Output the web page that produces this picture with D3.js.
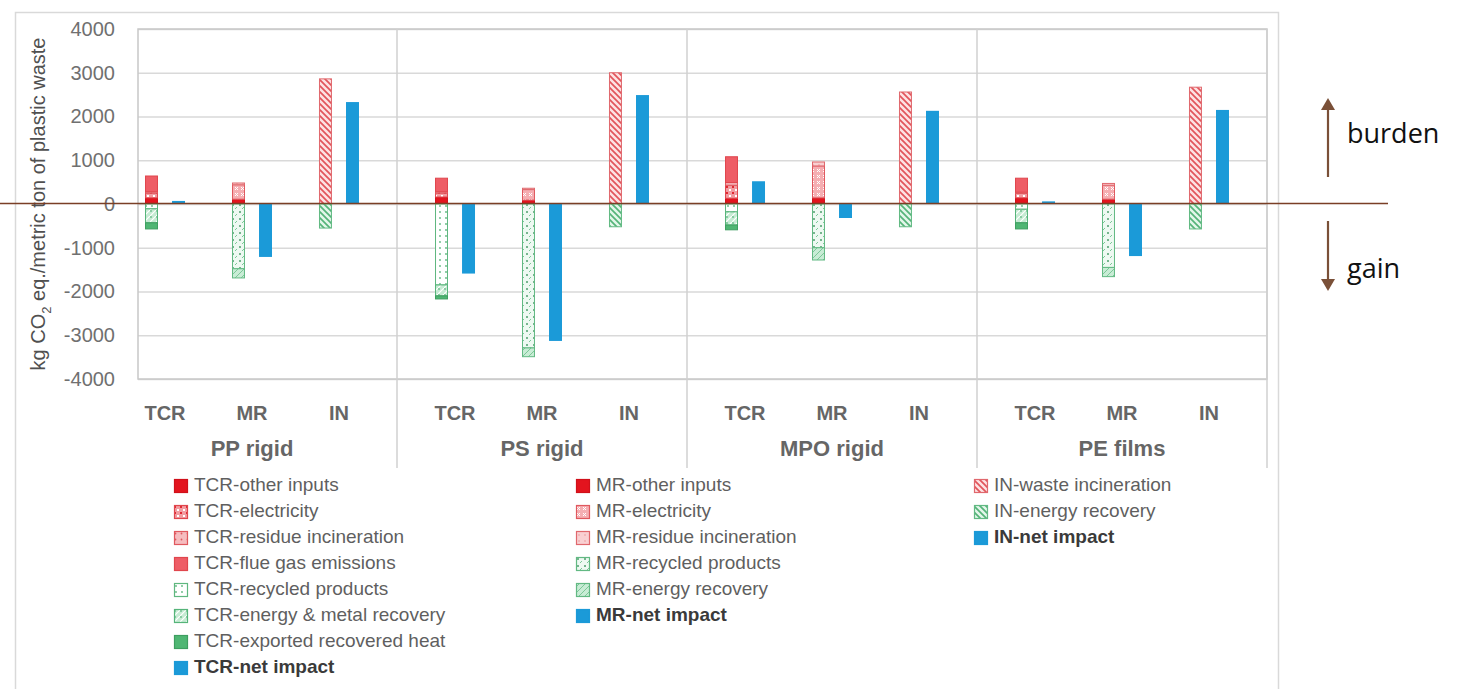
<!DOCTYPE html>
<html>
<head>
<meta charset="utf-8">
<script src="https://cdnjs.cloudflare.com/ajax/libs/d3/7.8.5/d3.min.js"></script>
<style>
  body { margin: 0; background: #fff; }
  svg { display: block; font-family: "Liberation Sans", Arial, sans-serif; }
</style>
</head>
<body>
<svg id="chart" width="1458" height="689"></svg>
<script>
// categories
var groups = ["PP rigid", "PS rigid", "MPO rigid", "PE films"];
var routes = ["TCR", "MR", "IN"];
var yTicks = [-4000, -3000, -2000, -1000, 0, 1000, 2000, 3000, 4000];

// TCR components (PP rigid, PS rigid, MPO rigid, PE films)
var tcrOtherInputs = [140, 160, 130, 140];
var tcrElectricity = [110, 90, 300, 100];
var tcrResidueIncineration = [30, 30, 60, 30];
var tcrFlueGas = [360, 310, 590, 320];
var tcrRecycledProducts = [-110, -1850, -180, -120];
var tcrEnergyMetalRecovery = [-320, -250, -300, -310];
var tcrExportedHeat = [-140, -70, -110, -140];
var tcrNet = [70, -1590, 520, 60];

// MR components
var mrOtherInputs = [110, 90, 140, 110];
var mrElectricity = [330, 240, 730, 320];
var mrResidueIncineration = [40, 30, 90, 40];
var mrRecycledProducts = [-1480, -3290, -1000, -1450];
var mrEnergyRecovery = [-210, -200, -280, -210];
var mrNet = [-1210, -3130, -320, -1190];

// IN components
var inWasteIncineration = [2860, 3000, 2560, 2670];
var inEnergyRecovery = [-550, -520, -520, -570];
var inNet = [2330, 2490, 2130, 2150];

var series = [
    { route: "TCR", name: "TCR-other inputs", values: tcrOtherInputs, style: "otherInputs" },
    { route: "TCR", name: "TCR-electricity", values: tcrElectricity, style: "tcrElec" },
    { route: "TCR", name: "TCR-residue incineration", values: tcrResidueIncineration, style: "tcrResidue" },
    { route: "TCR", name: "TCR-flue gas emissions", values: tcrFlueGas, style: "flueGas" },
    { route: "TCR", name: "TCR-recycled products", values: tcrRecycledProducts, style: "recycled" },
    { route: "TCR", name: "TCR-energy & metal recovery", values: tcrEnergyMetalRecovery, style: "tcrEnergy" },
    { route: "TCR", name: "TCR-exported recovered heat", values: tcrExportedHeat, style: "heat" },
    { route: "MR", name: "MR-other inputs", values: mrOtherInputs, style: "otherInputs" },
    { route: "MR", name: "MR-electricity", values: mrElectricity, style: "mrElec" },
    { route: "MR", name: "MR-residue incineration", values: mrResidueIncineration, style: "mrResidue" },
    { route: "MR", name: "MR-recycled products", values: mrRecycledProducts, style: "mrRecycled" },
    { route: "MR", name: "MR-energy recovery", values: mrEnergyRecovery, style: "mrEnergy" },
    { route: "IN", name: "IN-waste incineration", values: inWasteIncineration, style: "inWaste" },
    { route: "IN", name: "IN-energy recovery", values: inEnergyRecovery, style: "inEnergy" }
];
var netSeries = [
    { route: "TCR", name: "TCR-net impact", values: tcrNet, style: "net" },
    { route: "MR", name: "MR-net impact", values: mrNet, style: "net" },
    { route: "IN", name: "IN-net impact", values: inNet, style: "net" }
];

var styles = {
    otherInputs: { fill: "#e3141e", stroke: "#d0101a" },
    tcrElec: { fill: "url(#p-tcr-elec)", stroke: "#e0464d" },
    tcrResidue: { fill: "url(#p-tcr-residue)", stroke: "#e0585e" },
    flueGas: { fill: "#ee5d66", stroke: "#e0464d" },
    recycled: { fill: "url(#p-recycled)", stroke: "#5fb77f" },
    tcrEnergy: { fill: "url(#p-tcr-energy)", stroke: "#55b479" },
    heat: { fill: "#4fb673", stroke: "#3e9e60" },
    mrElec: { fill: "url(#p-mr-elec)", stroke: "#e0585e" },
    mrResidue: { fill: "url(#p-mr-residue)", stroke: "#e0686d" },
    mrRecycled: { fill: "url(#p-mr-recycled)", stroke: "#62b983" },
    mrEnergy: { fill: "url(#p-mr-energy)", stroke: "#62b983" },
    inWaste: { fill: "url(#p-in-waste)", stroke: "#e0686d" },
    inEnergy: { fill: "url(#p-in-energy)", stroke: "#62b983" },
    net: { fill: "#1b9ad8", stroke: "#1b9ad8" }
};

var svg = d3.select("#chart");
var plot = { left: 138, right: 1267, top: 29, bottom: 379 };
var groupStep = 290;

// patterns
var defs = svg.append("defs");
function addPattern(id, size, bg, marks)
{
    var p = defs.append("pattern").attr("id", id).attr("patternUnits", "userSpaceOnUse")
        .attr("width", size).attr("height", size);
    p.append("rect").attr("width", size).attr("height", size).attr("fill", bg);
    marks(p);
}
addPattern("p-tcr-elec", 6, "#f29ca1", function (p)
{
    p.append("rect").attr("x", 0).attr("y", 0).attr("width", 2).attr("height", 2).attr("fill", "#e02a33");
    p.append("rect").attr("x", 3).attr("y", 3).attr("width", 2).attr("height", 2).attr("fill", "#ffffff");
});
addPattern("p-tcr-residue", 6, "#f6bcbf", function (p)
{
    p.append("circle").attr("cx", 1.5).attr("cy", 1.5).attr("r", 0.9).attr("fill", "#e0585e");
});
addPattern("p-recycled", 6, "#ffffff", function (p)
{
    p.append("circle").attr("cx", 2).attr("cy", 2).attr("r", 0.9).attr("fill", "#5fb77f");
});
addPattern("p-tcr-energy", 6, "#c6ebd3", function (p)
{
    p.append("path").attr("d", "M0,6 L6,0").attr("stroke", "#ffffff").attr("stroke-width", 1.2);
    p.append("circle").attr("cx", 1).attr("cy", 1).attr("r", 0.8).attr("fill", "#3ea665");
});
addPattern("p-mr-elec", 6, "#f5aeb2", function (p)
{
    p.append("path").attr("d", "M1,1 L4,4 M4,1 L1,4").attr("stroke", "#ffffff").attr("stroke-width", 1);
});
addPattern("p-mr-residue", 6, "#f9d0d2", function (p)
{
    p.append("circle").attr("cx", 3).attr("cy", 3).attr("r", 0.7).attr("fill", "#e88a8e");
});
addPattern("p-mr-recycled", 7, "#eef9f2", function (p)
{
    p.append("circle").attr("cx", 2).attr("cy", 2).attr("r", 1).attr("fill", "#4e9f6c");
    p.append("path").attr("d", "M4,6 L6,4").attr("stroke", "#7cc898").attr("stroke-width", 1);
});
addPattern("p-mr-energy", 6, "#c8ecd5", function (p)
{
    p.append("path").attr("d", "M0,3 L3,0 M3,6 L6,3").attr("stroke", "#7cc898").attr("stroke-width", 1);
});
addPattern("p-in-waste", 6, "#fde2e3", function (p)
{
    p.append("path").attr("d", "M0,0 L6,6 M-1,5 L1,7 M5,-1 L7,1").attr("stroke", "#e2555b").attr("stroke-width", 1.7);
});
addPattern("p-in-energy", 6, "#e3f6ea", function (p)
{
    p.append("path").attr("d", "M0,0 L6,6 M-1,5 L1,7 M5,-1 L7,1").attr("stroke", "#55b479").attr("stroke-width", 1.7);
});

// outer chart border
svg.append("rect").attr("x", 15.5).attr("y", 12.5).attr("width", 1263).attr("height", 700)
    .attr("fill", "#fff").attr("stroke", "#d9d9d9").attr("stroke-width", 1.5);

// scales
var y = d3.scaleLinear().domain([-4000, 4000]).range([plot.bottom, plot.top]);
var xGroup = d3.scaleBand().domain(groups).range([plot.right - groups.length * groupStep, plot.right]);
var xRoute = d3.scaleBand().domain(routes).range([0, groupStep]).paddingOuter(0.167);
var xSub = d3.scaleBand().domain(["stack", "net"]).range([-20, 20]).paddingInner(0.52);

function routeCenter(g, r) { return xGroup(g) + xRoute(r) + xRoute.bandwidth() / 2; }

// plain hyphen for negatives, as in the original
var fmt = d3.formatLocale({ decimal: ".", thousands: "", grouping: [3], currency: ["", ""], minus: "-" }).format("d");

// y gridlines + labels
var yAxis = svg.append("g").attr("transform", "translate(" + plot.left + ",0)")
    .call(d3.axisLeft(y).tickValues(yTicks).tickFormat(fmt)
        .tickSize(-(plot.right - plot.left)).tickPadding(23));
yAxis.select(".domain").remove();
yAxis.selectAll(".tick line").attr("stroke", "#d9d9d9").attr("stroke-width", 1.5);
yAxis.selectAll(".tick text").attr("fill", "#707070").style("font-size", "20px")
    .style("font-family", "'Liberation Sans', Arial, sans-serif");

// plot border
svg.append("rect").attr("x", plot.left).attr("y", plot.top)
    .attr("width", plot.right - plot.left).attr("height", plot.bottom - plot.top)
    .attr("fill", "none").attr("stroke", "#c8c8c8").attr("stroke-width", 1.5);

// group separators (extend into the category axis)
svg.selectAll("line.sep").data(groups.slice(1).concat(["end"])).enter().append("line")
    .attr("class", "sep")
    .attr("x1", function (d) { return d === "end" ? plot.right : xGroup(d); })
    .attr("x2", function (d) { return d === "end" ? plot.right : xGroup(d); })
    .attr("y1", plot.top).attr("y2", 468)
    .attr("stroke", "#d0d0d0").attr("stroke-width", 1.5);

// stacked component bars
routes.forEach(function (route)
{
    var rs = series.filter(function (s) { return s.route === route; });
    var rows = groups.map(function (g, gi)
    {
        var row = { group: g };
        rs.forEach(function (s) { row[s.name] = s.values[gi]; });
        return row;
    });
    var stacked = d3.stack().keys(rs.map(function (s) { return s.name; }))
        .offset(d3.stackOffsetDiverging)(rows);

    stacked.forEach(function (layer, li)
    {
        var st = styles[rs[li].style];
        svg.append("g").selectAll("rect").data(layer).enter().append("rect")
            .attr("x", function (d) { return routeCenter(d.data.group, route) + xSub("stack") + 0.5; })
            .attr("width", xSub.bandwidth() - 1)
            .attr("y", function (d) { return y(Math.max(d[0], d[1])); })
            .attr("height", function (d) { return Math.abs(y(d[0]) - y(d[1])); })
            .attr("fill", st.fill)
            .attr("stroke", st.stroke)
            .attr("stroke-width", 1);
    });
});

// net impact bars
netSeries.forEach(function (s)
{
    svg.append("g").selectAll("rect").data(s.values).enter().append("rect")
        .attr("x", function (d, i) { return routeCenter(groups[i], s.route) + xSub("net"); })
        .attr("width", xSub.bandwidth())
        .attr("y", function (d) { return y(Math.max(0, d)); })
        .attr("height", function (d) { return Math.abs(y(d) - y(0)); })
        .attr("fill", styles.net.fill);
});

// category labels
groups.forEach(function (g)
{
    routes.forEach(function (r)
    {
        svg.append("text").attr("x", routeCenter(g, r)).attr("y", 420)
            .attr("text-anchor", "middle").attr("fill", "#666666")
            .style("font-size", "20px").style("font-weight", "bold")
            .text(r);
    });
    svg.append("text").attr("x", xGroup(g) + xGroup.bandwidth() / 2).attr("y", 456)
        .attr("text-anchor", "middle").attr("fill", "#666666")
        .style("font-size", "22px").style("font-weight", "bold")
        .text(g);
});

// y axis title
var yTitle = svg.append("text")
    .attr("transform", "translate(40," + y(0) + ") rotate(-90)")
    .attr("text-anchor", "middle").attr("dominant-baseline", "middle")
    .attr("fill", "#505050").style("font-size", "20px");
yTitle.append("tspan").text("kg CO");
yTitle.append("tspan").attr("baseline-shift", "sub").style("font-size", "13px").text("2");
yTitle.append("tspan").text(" eq./metric ton of plastic waste");

// legend, one column per route
var legendCols = [
    { route: "TCR", x: 174 },
    { route: "MR", x: 576 },
    { route: "IN", x: 974 }
];
legendCols.forEach(function (col)
{
    var items = series.filter(function (s) { return s.route === col.route; })
        .concat(netSeries.filter(function (s) { return s.route === col.route; }));
    var lg = svg.append("g").selectAll("g").data(items).enter().append("g")
        .attr("transform", function (d, i) { return "translate(" + col.x + "," + (486 + i * 26) + ")"; });
    lg.append("rect").attr("x", 0.5).attr("y", -6.5).attr("width", 13).attr("height", 13)
        .attr("fill", function (d) { return styles[d.style].fill; })
        .attr("stroke", function (d) { return styles[d.style].stroke; })
        .attr("stroke-width", 1.2);
    lg.append("text").attr("x", 20).attr("y", 0).attr("dominant-baseline", "middle")
        .attr("fill", function (d) { return d.style === "net" ? "#3a3a3a" : "#5f5f5f"; })
        .style("font-size", "19px")
        .style("font-weight", function (d) { return d.style === "net" ? "bold" : "normal"; })
        .text(function (d) { return d.name; });
});

// burden / gain annotation
var brown = "#7a5038";
svg.append("line").attr("x1", 0).attr("x2", 1388).attr("y1", y(0) - 0.5).attr("y2", y(0) - 0.5)
    .attr("stroke", "#7a3f26").attr("stroke-width", 1.3);
svg.append("line").attr("x1", 1328).attr("x2", 1328).attr("y1", 177).attr("y2", 108)
    .attr("stroke", brown).attr("stroke-width", 2.2);
svg.append("path").attr("d", "M1321,110 L1328,98 L1335,110 Z").attr("fill", brown);
svg.append("line").attr("x1", 1328).attr("x2", 1328).attr("y1", 221).attr("y2", 281)
    .attr("stroke", brown).attr("stroke-width", 2.2);
svg.append("path").attr("d", "M1321,279 L1328,291 L1335,279 Z").attr("fill", brown);
svg.append("text").attr("x", 1347).attr("y", 143).attr("fill", "#111")
    .style("font-family", "'Open Sans', 'Noto Sans', sans-serif").style("font-size", "27px").text("burden");
svg.append("text").attr("x", 1347).attr("y", 278).attr("fill", "#111")
    .style("font-family", "'Open Sans', 'Noto Sans', sans-serif").style("font-size", "27px").text("gain");
</script>
</body>
</html>
